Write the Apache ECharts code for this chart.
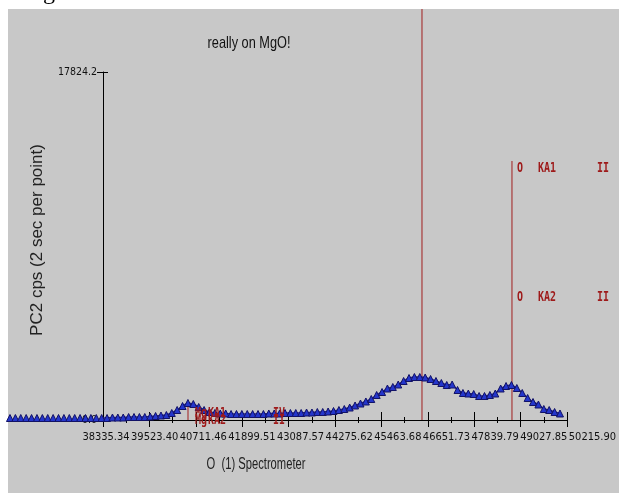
<!DOCTYPE html>
<html>
<head>
<meta charset="utf-8">
<script src="https://cdn.jsdelivr.net/npm/echarts@6/dist/echarts.min.js"></script>
<style>
html, body { margin: 0; padding: 0; background: #fff; }
#chart { width: 619px; height: 493px; }
</style>
</head>
<body>
<div id="chart"></div>
<script>
// spectrometer axis (x) and counts (y)
var X_MIN = 38335.34, X_MAX = 50215.90, X_TICK = 1188.056;
var Y_MAX = 17824.2;
var xTickLabels = ['38335.34', '39523.40', '40711.46', '41899.51', '43087.57', '44275.62',
    '45463.68', '46651.73', '47839.79', '49027.85', '50215.90'];

// scan: first position and step, then counts per point
var scanStart = 35954, scanStep = 138.06;
var counts = [
    102, 102, 102, 102, 102, 102, 102, 102, 102, 102,
    102, 102, 102, 102, 102, 102, 102, 102, 102, 128,
    128, 128, 154, 154, 154, 154, 179, 205, 230, 256,
    359, 512, 717, 871, 820, 666, 512, 410, 359, 333,
    333, 307, 307, 307, 307, 307, 307, 307, 333, 333,
    333, 359, 359, 359, 359, 384, 384, 410, 410, 435,
    461, 512, 563, 640, 743, 845, 948, 1076, 1281, 1434,
    1613, 1690, 1818, 1998, 2151, 2202, 2202, 2177, 2100, 1998,
    1895, 1793, 1818, 1537, 1383, 1357, 1332, 1229, 1229, 1281,
    1357, 1613, 1741, 1793, 1639, 1383, 1127, 922, 794, 563,
    512, 410, 333
];

// element line markers (position, height) and their tags
var lineX = [40512, 46503, 48807];
var lineTop = [770, 21050, 13266];
var tagX = [40691, 41024, 40691, 41024, 42688, 42688, 48935, 49473, 50984, 48935, 49473, 50984];
var tagY = [358, 358, 0, 0, 358, 0, 12907, 12907, 12907, 6300, 6300, 6300];
var tagText = ['Mg', 'KA1', 'Mg', 'KA2', 'IV', 'II', 'O', 'KA1', 'II', 'O', 'KA2', 'II'];

var chart = echarts.init(document.getElementById('chart'));

var scan = counts.map(function (c, i) {
    return [scanStart + i * scanStep, c];
});

var series = [];
lineX.forEach(function (x, i) {
    series.push({
        type: 'line',
        data: [[x, 0], [x, lineTop[i]]],
        symbol: 'none',
        clip: false,
        z: 1,
        lineStyle: { color: '#a11f1f', width: 1 },
        silent: true
    });
});
series.push({
    type: 'line',
    name: 'scan',
    data: scan,
    clip: false,
    z: 3,
    symbol: 'triangle',
    symbolSize: 7,
    itemStyle: { color: '#2436cc', borderColor: '#121266', borderWidth: 1 },
    lineStyle: { color: '#1c1c96', width: 1.5 }
});

var narrow = '"DejaVu Sans Condensed", "Liberation Sans Narrow", "Liberation Sans"';

var decor = [
    { type: 'text', left: 23, top: -19, z: -20,
      style: { text: 'Figure', font: '24px "Liberation Serif"', fill: '#000' } },
    { type: 'rect', shape: { x: 8, y: 9, width: 611, height: 484 }, z: -10,
      style: { fill: '#c8c8c8' } },
    { type: 'text', x: 249, y: 43, z: 5, scaleX: 0.75,
      style: { text: 'really on MgO!', font: '17px "Liberation Sans"', fill: '#111',
               align: 'center', verticalAlign: 'middle' } },
    { type: 'text', x: 37, y: 240, rotation: Math.PI / 2, z: 5,
      style: { text: 'PC2 cps (2 sec per point)', font: '17px "Liberation Sans"', fill: '#222',
               align: 'center', verticalAlign: 'middle' } },
    { type: 'text', x: 256, y: 465, z: 5, scaleX: 0.7,
      style: { text: 'O  (1) Spectrometer', font: '16px "Liberation Sans"', fill: '#222',
               align: 'center', verticalAlign: 'middle' } }
];

var option = {
    animation: false,
    backgroundColor: '#ffffff',
    graphic: decor,
    grid: [
        { left: 103, right: 52, top: 72, bottom: 73 },
        { left: 106, width: 487, top: 72, bottom: 73 }
    ],
    xAxis: [
        {
            type: 'value', gridIndex: 0, min: X_MIN, max: X_MAX, interval: X_TICK,
            axisLine: { show: true, onZero: false, lineStyle: { color: '#000', width: 1 } },
            axisTick: { show: true, length: 7, lineStyle: { color: '#000' } },
            minorTick: { show: true, splitNumber: 2, length: 3, lineStyle: { color: '#000' } },
            axisLabel: { show: false },
            splitLine: { show: false }
        },
        {
            type: 'value', gridIndex: 0, position: 'bottom', min: X_MIN, max: X_MAX, interval: X_TICK,
            axisLine: { show: false, onZero: false },
            axisTick: { show: true, inside: true, length: 8, lineStyle: { color: '#000' } },
            minorTick: { show: true, splitNumber: 2, length: 3, lineStyle: { color: '#000' } },
            axisLabel: { show: false },
            splitLine: { show: false }
        },
        {
            type: 'value', gridIndex: 1, min: 0, max: 10, interval: 1,
            axisLine: { show: false, onZero: false },
            axisTick: { show: false },
            axisLabel: {
                margin: 12, showMinLabel: true, showMaxLabel: true, hideOverlap: false,
                fontFamily: narrow, fontSize: 11, color: '#111',
                formatter: function (v) { return xTickLabels[Math.round(v)]; }
            },
            splitLine: { show: false }
        }
    ],
    yAxis: [
        {
            type: 'value', gridIndex: 0, min: 0, max: Y_MAX, interval: Y_MAX,
            axisLine: { show: true, onZero: false, lineStyle: { color: '#000', width: 1 } },
            axisTick: { show: true, length: 6, lineStyle: { color: '#000' } },
            axisLabel: {
                margin: 6, fontFamily: narrow, fontSize: 10.5, color: '#111',
                formatter: function (v) { return v.toFixed(1); }
            },
            splitLine: { show: false }
        },
        {
            type: 'value', gridIndex: 0, position: 'left', min: 0, max: Y_MAX, interval: Y_MAX,
            axisLine: { show: false, onZero: false },
            axisTick: { show: true, inside: true, length: 5, lineStyle: { color: '#000' } },
            axisLabel: { show: false },
            splitLine: { show: false }
        },
        {
            type: 'value', gridIndex: 1, min: 0, max: 1, show: false
        }
    ],
    series: series
};

chart.setOption(option);

// element tags: placed through the chart's own scales, drawn tall and narrow
var tags = tagX.map(function (x, i) {
    var p = chart.convertToPixel({ gridIndex: 0 }, [x, tagY[i]]);
    return {
        type: 'text', x: p[0], y: p[1], z: 6, scaleY: 1.35,
        style: { text: tagText[i], font: 'bold 10px "DejaVu Sans Mono"', fill: '#9e1a1a',
                 align: 'left', verticalAlign: 'middle' }
    };
});
chart.setOption({ graphic: decor.concat(tags) });
</script>
</body>
</html>
